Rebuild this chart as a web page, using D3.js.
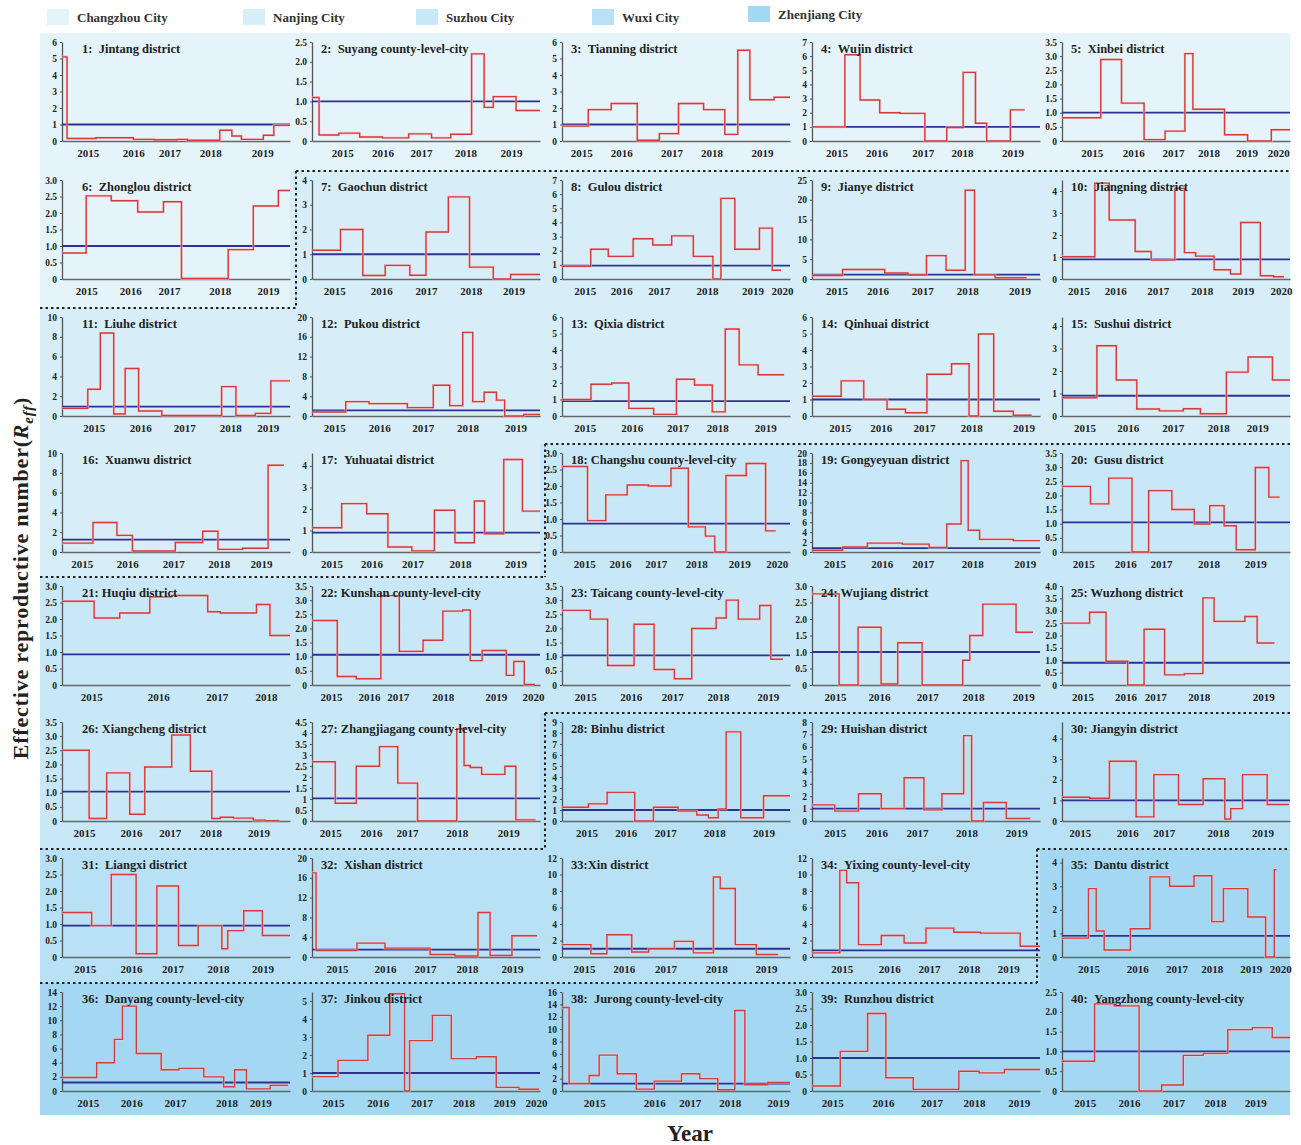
<!DOCTYPE html>
<html>
<head>
<meta charset="utf-8">
<script src="https://cdn.jsdelivr.net/npm/d3@7"></script>
<style>
body { margin: 0; background: #fff; }
text { font-family: "Liberation Serif", "Times New Roman", serif; font-weight: bold; }
</style>
</head>
<body>
<div id="chart"></div>
<script>
// city groups and their background colours
var cities = ["Changzhou City", "Nanjing City", "Suzhou City", "Wuxi City", "Zhenjiang City"];
var cityColors = ["#e5f4fb", "#d7eef9", "#c9e8f7", "#b9e1f5", "#a4d8f2"];

var districts = [
    "1:\u2002Jintang district", "2:\u2002Suyang county-level-city", "3:\u2002Tianning district", "4:\u2002Wujin district", "5:\u2002Xinbei district",
    "6:\u2002Zhonglou district", "7:\u2002Gaochun district", "8:\u2002Gulou district", "9:\u2002Jianye district", "10:\u2002Jiangning district",
    "11:\u2002Liuhe district", "12:\u2002Pukou district", "13:\u2002Qixia district", "14:\u2002Qinhuai district", "15:\u2002Sushui district",
    "16:\u2002Xuanwu district", "17:\u2002Yuhuatai district", "18: Changshu county-level-city", "19: Gongyeyuan district", "20:\u2002Gusu district",
    "21: Huqiu district", "22: Kunshan county-level-city", "23: Taicang county-level-city", "24: Wujiang district", "25: Wuzhong district",
    "26: Xiangcheng district", "27: Zhangjiagang county-level-city", "28: Binhu district", "29: Huishan district", "30: Jiangyin district",
    "31:\u2002Liangxi district", "32:\u2002Xishan district", "33:Xin district", "34:\u2002Yixing county-level-city", "35:\u2002Dantu district",
    "36:\u2002Danyang county-level-city", "37:\u2002Jinkou district", "38:\u2002Jurong county-level-city", "39:\u2002Runzhou district", "40:\u2002Yangzhong county-level-city"
];
var cityOf = [0,0,0,0,0, 0,1,1,1,1, 1,1,1,1,1, 1,1,2,2,2, 2,2,2,2,2, 2,2,3,3,3, 3,3,3,3,4, 4,4,4,4,4];

// y axis: top of axis, tick step, decimals of tick labels (-1 = plain)
var yMax = [6,2.5,6,7,3.5, 3,4,7,25,4.5, 10,20,6,6,4.4, 10,4.6,3,20,3.5, 3,3.5,3.5,3,4, 3.5,4.5,9,8,4.8, 3,20,12,12,4.2, 14,5.5,16,3,2.5];
var yStep = [1,0.5,1,1,0.5, 0.5,1,1,5,1, 2,4,1,1,1, 2,1,0.5,2,0.5, 0.5,0.5,0.5,0.5,0.5, 0.5,0.5,1,1,1, 0.5,4,2,2,1, 2,1,2,0.5,0.5];
var yDigits = [0,1,0,0,1, 1,0,0,0,0, 0,0,0,0,0, 0,0,1,0,1, 1,1,1,1,1, 1,-1,0,0,0, 1,0,0,0,0, 0,0,0,1,1];

// threshold line (Reff = 1 as drawn)
var threshold = [1,1,1,1,1, 1,1,0.95,1.1,0.89, 0.95,1.15,0.9,1,0.9, 1.25,0.9,0.86,0.8,1.05, 0.93,1.07,1.05,1,0.9, 1.04,1.03,1,1,1, 0.95,1.5,1,0.8,0.9, 1.2,1,1.2,1,1];

// year tick positions along each panel (0-100 of the time span), labels start at firstYear
var firstYear = 2015;
var yearPos = [
    [11.3,31.3,47.2,65,87.8], [13.3,30.9,47.8,67.3,87.3], [8.4,26,48,65.6,87.7], [10.8,28.3,48.6,65.8,87.9], [13,31.3,48.7,64.3,80.9,94.8],
    [10.6,29.9,46.9,69.2,90.3], [9.8,30.4,50,69.6,88.4], [10,26,42.4,63.6,83.5,96.5], [10.8,28.7,48.4,68.1,91], [7.2,23.4,42,61.3,79.3,96],
    [13.9,34.3,53.6,73.8,90.2], [9.8,29.5,48.6,68.2,89.3], [10,30.6,50.7,68.1,89.1], [12.2,30.2,49.1,69.8,92.8], [9.9,28.8,48.6,68.5,85.6],
    [8.7,28.6,48.8,68.7,87.3], [8.6,26.1,44.1,64.9,89.2], [9.8,25.4,41.1,58.9,77.7,94.2], [9.9,30.6,48.6,70.3,93.3], [9.3,27.7,43.4,64.3,84.8],
    [12.8,42.2,67.9,89.5], [8.3,25,37.6,57.4,80.6,96.9], [10.2,30.2,48.4,68.4,90.2], [10.1,29.4,50.5,70.6,92.7], [9,27.9,40.9,60,88.3],
    [9.7,30.3,47.3,65.1,86.2], [8,25.9,41.7,63.5,86.1], [10.8,28,45.3,66.8,88.4], [10,28.3,46.1,67.8,89.6], [7.8,28.6,44.6,68.4,87.9],
    [10,30.3,48.5,68.4,87.9], [11,32,49.6,68,87.7], [9.6,27.1,45.4,67.7,89.5], [13,33.9,51.3,68.7,86.1], [11.6,33,50.2,65.7,82.8,95.7],
    [11.3,30.4,49.6,72.2,87], [9.2,28.8,48,66.4,84.3,98.3], [14.1,40.5,56,73.6,94.7], [8.9,31.1,52.4,71.1,90.7], [10,29.4,48.9,67.1,84.8]
];

// step breakpoints (0-100 of the time span) and Reff value of each step
var stepX = [
    [0,2.2,14.9,31.3,40.4,50.5,55,69.2,74.5,78.7,88.3,92.9,100],
    [0,3.1,11.8,20.9,30.9,42.4,52.4,60.9,70,75.5,79.5,89.5,100],
    [0,11.5,21.6,33,42.7,51.1,62.1,71.4,77.1,82.4,93,100],
    [0,14.4,21.1,29.7,38.7,49.5,59.1,66.3,71.7,76.6,87,93.3],
    [0,17,26.1,36,45.2,53.9,57.4,71.3,81.4,91.8,100],
    [0,10.6,21.6,33.2,44.5,52.4,72.9,83.9,94.9,100],
    [0,12.5,22.3,32.1,42.9,50,59.8,69.1,79.5,87.1,100],
    [0,12.6,20.3,31.2,39.8,48.1,57.6,66.2,69.7,75.8,86.6,92.2,96.1],
    [0,13.4,31.9,42.1,50.2,58.8,67.2,71.3,80.3,94.1],
    [0,14.4,20.7,32.1,39.1,49.5,53.7,58.6,66.7,73.9,78.4,87,92.8,97.3],
    [0,11.3,16.8,22.7,27.7,33.6,43.8,70,76.3,84.8,91.6,100],
    [0,14.8,25,41.8,53.2,60.4,66.1,70.5,75.5,80.9,84.5,92.9,100],
    [0,12.7,21.8,29.3,40.2,50.2,58.1,65.9,71.6,77.7,86,97.4],
    [0,12.8,22.7,32.9,41,50.4,61.2,68.9,73,79.7,88.3,96.4],
    [0,15.3,23.8,32.8,42.7,53.2,60.7,72.1,81.6,92.3,100],
    [0,13.6,24.1,30.9,49.7,61.7,68.4,79.2,90.4,97.3],
    [0,13,24,33.3,43.8,53.7,62.7,71.2,75.7,84.1,92.3,100],
    [0,11.2,19.2,28.6,37.9,47.8,55.4,62.9,67,71.9,80.8,89.3,93.8],
    [0,13.5,24.3,39.6,51.4,59.1,65.4,68.5,73.5,88.3,100],
    [0,12.5,20.5,30.7,38,48.2,58,64.8,71.1,76.4,84.8,90.7,95.5],
    [0,14.1,25.3,38.5,48.1,63.9,69.4,85.3,91.2,100],
    [0,11.1,19.4,30.2,38.3,48.7,57.4,66.1,69.4,74.6,85.2,88.5,93.1,97.8],
    [0,12.4,20,31.6,40.4,49.3,56.9,67.6,72,77.3,86.7,91.6,96.9],
    [0,11.9,20.2,30.3,37.6,48.3,66.1,69.2,74.9,89.5,96.9],
    [0,12.1,19.3,28.8,36,45,53.7,61.8,66.7,80.2,85.6,93.2],
    [0,11.9,19.6,29.7,36.3,48.1,56.3,65.7,69.4,75.2,83.9,89,95.4],
    [0,10.2,19.4,29.6,37.6,46.3,63.5,66.7,69.4,74.4,84.6,89.4,98.1],
    [0,11.6,19.8,31.9,40.1,50.9,59.1,64.2,68.5,72,78.4,88.4,100],
    [0,10,20.4,30.4,40.4,49.1,57,66.5,70,75.2,85.2,95.7],
    [0,12.1,20.8,32.5,40.3,51.1,61.9,71.4,74,79.2,90,99.6],
    [0,13,21.6,32.5,41.6,51.1,59.7,70.1,72.7,79.7,87.9,100],
    [0,1.8,19.7,32,51.8,62.7,72.8,78.1,87.7,98.7],
    [0,12.7,19.7,30.6,38,49.3,57.6,66.4,69.4,76,85.2,94.8],
    [0,12.2,15.2,20.4,30.4,40.4,50,62.2,73.9,91.3,100],
    [0,11.6,15,18.5,30,38.6,47.2,57.9,65.7,70.8,81.5,89.3,93.1,94],
    [0,15.2,23,26.5,32.6,43.5,51.3,62.2,70.9,75.7,80.9,91.3,99.1],
    [0,11.4,24.5,34.1,40.6,42.8,52.8,61.1,72.1,80.8,90.8,99.6],
    [0,3.1,11.9,16.3,24.2,32.6,40.5,52.4,60.4,68.3,75.8,80.2,90.3,100],
    [0,12.4,24.4,32.4,44.4,64.4,73.3,84.4,100],
    [0,14.3,22.9,33.8,43.7,53.2,61.9,72.7,83.5,92.2,100]
];
var stepR = [
    [5.1,0.15,0.2,0.1,0.08,0.1,0.05,0.65,0.3,0.1,0.35,0.95],
    [1.1,0.15,0.2,0.1,0.08,0.18,0.08,0.17,2.2,0.85,1.12,0.77],
    [0.9,1.9,2.27,0.05,0.45,2.27,1.9,0.4,5.5,2.5,2.65],
    [1.0,6.1,2.9,2.0,1.95,0,0.95,4.85,1.25,0,2.2],
    [0.82,2.88,1.34,0.05,0.35,3.09,1.12,0.22,0,0.4],
    [0.79,2.52,2.37,2.03,2.34,0.02,0.89,2.21,2.68],
    [1.16,2.0,0.14,0.55,0.15,1.9,3.32,0.48,0,0.18],
    [0.9,2.1,1.6,2.85,2.4,3.05,1.6,0,5.7,2.1,3.6,0.62],
    [0.9,2.4,1.5,1.0,5.9,2.2,22.4,1.05,0.3],
    [1.01,4.36,2.68,1.25,0.86,4.12,1.2,1.04,0.42,0.23,2.57,0.15,0.1],
    [0.78,2.7,8.38,0.2,4.8,0.5,0.05,2.97,0.05,0.27,3.55],
    [0.8,2.9,2.5,1.7,6.2,2.1,16.9,2.9,4.8,3.2,0,0.3],
    [1.0,1.92,2.0,0.46,0.1,2.23,1.88,0.25,5.27,3.1,2.5],
    [1.2,2.13,1.0,0.41,0.2,2.53,3.17,0,4.97,0.29,0.05],
    [0.81,3.12,1.6,0.31,0.23,0.32,0.1,1.95,2.62,1.6],
    [0.9,2.98,1.68,0.1,0.96,2.09,0.27,0.38,8.77],
    [1.13,2.25,1.78,0.23,0.05,1.94,0.43,2.37,0.85,4.3,1.9],
    [2.59,0.95,1.73,2.03,2.0,2.54,0.76,0.48,0,2.32,2.68,0.64],
    [0.34,1.0,1.8,1.6,0.94,5.66,18.45,4.4,2.56,2.3],
    [2.32,1.7,2.61,0,2.17,1.5,0.99,1.64,0.93,0.08,2.99,1.94],
    [2.54,2.03,2.18,2.67,2.71,2.22,2.18,2.44,1.5],
    [2.28,0.3,0.22,3.16,1.19,1.58,2.61,2.65,0.86,1.22,0.34,0.83,0.02],
    [2.64,2.33,0.69,2.15,0.55,0.22,2.0,2.37,3.0,2.33,2.81,0.91],
    [2.76,0,1.75,0.03,1.28,0,0.75,1.5,2.45,1.6],
    [2.5,2.94,0.96,0,2.25,0.41,0.46,3.52,2.57,2.77,1.7],
    [2.5,0.09,1.7,0.24,1.91,3.04,1.76,0.09,0.13,0.1,0.03,0.01],
    [2.69,0.81,2.49,3.38,1.72,0,4.19,2.52,2.43,2.12,2.49,0.05],
    [1.25,1.56,2.6,0,1.25,0.9,0.55,0.3,1.1,8.1,0.3,2.3],
    [1.3,0.8,2.2,1.0,3.5,0.9,2.2,6.9,0,1.5,0.2],
    [1.15,1.1,2.9,0.2,2.25,0.8,2.05,0.1,0.6,2.25,0.8],
    [1.35,0.95,2.5,0.1,2.15,0.35,0.95,0.25,0.8,1.4,0.65],
    [17,1.3,2.8,1.8,0.5,0.2,9.0,0.3,4.3],
    [1.5,0.4,2.7,0.6,1.0,1.9,0.5,9.7,8.3,1.5,0.3],
    [0.5,10.5,9.0,1.5,2.6,1.7,3.5,3.0,2.9,1.3],
    [0.8,2.9,1.1,0.3,1.2,3.4,3.0,3.45,1.5,2.9,1.7,0,3.7],
    [1.9,4.0,7.3,12,5.3,3.0,3.2,2.0,0.6,3.0,0.3,0.8],
    [0.8,1.7,3.1,5.4,0,2.8,4.2,1.8,1.9,0.2,0.1],
    [13.5,1.2,2.5,5.8,2.8,0.3,1.6,2.8,2.0,0.2,13,1.0,1.4],
    [0.15,1.2,2.35,0.4,0.05,0.6,0.55,0.65],
    [0.75,2.2,2.15,0,0.15,0.9,0.95,1.55,1.6,1.35]
];

var svgWidth = 1301;
var svgHeight = 1145;

var svg = d3.select("#chart")
    .append("svg")
    .attr("width", svgWidth)
    .attr("height", svgHeight);

// grid of small panels
var colLeft = 40, colWidth = 250;
var rowTops = [33, 171, 308, 444, 577, 713, 849, 983];
var rowBottom = 1115;
var axisOffset = 22, plotW = 228, plotTop = 9, plotBottom = 108;

var bgGroup = svg.append("g");
var panelGroup = svg.append("g");

districts.forEach(function(name, i) {
    var r = Math.floor(i / 5), c = i % 5;
    var x0 = colLeft + c * colWidth;
    var y0 = rowTops[r];
    var y1 = r < rowTops.length - 1 ? rowTops[r + 1] : rowBottom;

    bgGroup.append("rect")
        .attr("x", x0)
        .attr("y", y0)
        .attr("width", colWidth)
        .attr("height", y1 - y0)
        .attr("fill", cityColors[cityOf[i]]);

    var g = panelGroup.append("g")
        .attr("transform", `translate(${x0 + axisOffset}, ${y0})`);

    var xScale = d3.scaleLinear().domain([0, 100]).range([0, plotW]);
    var yScale = d3.scaleLinear().domain([0, yMax[i]]).range([plotBottom, plotTop]);

    // y axis
    var fmt = yDigits[i] < 0 ? (d => String(d)) : (d => d === 0 ? "0" : d3.format(`.${yDigits[i]}f`)(d));
    var leftAxis = d3.axisLeft(yScale)
        .tickValues(d3.range(0, yMax[i] + 1e-6, yStep[i]))
        .tickSize(2)
        .tickSizeOuter(0)
        .tickPadding(3)
        .tickFormat(fmt);
    var ya = g.append("g").call(leftAxis);
    ya.select(".domain").attr("stroke", "#555").attr("stroke-width", 1.3);
    ya.selectAll(".tick line").attr("stroke", "#555");
    ya.selectAll("text").attr("font-size", 9.5).attr("fill", "#222")
        .attr("font-family", "Liberation Serif, serif").attr("font-weight", "bold");

    // x axis with year labels
    var bottomAxis = d3.axisBottom(xScale)
        .tickValues(yearPos[i])
        .tickFormat((d, k) => firstYear + k)
        .tickSize(0)
        .tickSizeOuter(0)
        .tickPadding(8);
    var xa = g.append("g")
        .attr("transform", `translate(0, ${plotBottom})`)
        .call(bottomAxis);
    xa.select(".domain").attr("stroke", "#666").attr("stroke-width", 1.6);
    xa.selectAll("text").attr("font-size", 11).attr("fill", "#222")
        .attr("font-family", "Liberation Serif, serif").attr("font-weight", "bold");

    // threshold line
    g.append("line")
        .attr("x1", xScale(0))
        .attr("x2", xScale(100))
        .attr("y1", yScale(threshold[i]))
        .attr("y2", yScale(threshold[i]))
        .attr("stroke", "#2e3192")
        .attr("stroke-width", 1.8);

    // Reff step line
    var pts = stepR[i].map((v, k) => [stepX[i][k], v]);
    pts.push([stepX[i][stepX[i].length - 1], stepR[i][stepR[i].length - 1]]);
    var line = d3.line()
        .x(d => xScale(d[0]))
        .y(d => yScale(d[1]))
        .curve(d3.curveStepAfter);
    g.append("path")
        .attr("d", line(pts))
        .attr("fill", "none")
        .attr("stroke", "#f2c6c6")
        .attr("stroke-opacity", 0.7)
        .attr("stroke-width", 2.6);
    g.append("path")
        .attr("d", line(pts))
        .attr("fill", "none")
        .attr("stroke", "#d83a3c")
        .attr("stroke-width", 1.4);

    // panel title
    g.append("text")
        .attr("x", c === 0 ? 20 : 9)
        .attr("y", 20)
        .attr("font-size", 12.5)
        .attr("fill", "#222")
        .text(name);
});

// dotted borders between cities
var borders = [
    "M296,171 H1290 M296,171 V308 M40,308 H296",
    "M545,444 H1290 M545,444 V577 M40,577 H545",
    "M545,713 H1290 M545,713 V849 M40,849 H545",
    "M1037,849 H1290 M1037,849 V983 M40,983 H1037"
];
svg.append("g").selectAll("path")
    .data(borders)
    .enter()
    .append("path")
    .attr("d", d => d)
    .attr("fill", "none")
    .attr("stroke", "#222")
    .attr("stroke-width", 2)
    .attr("stroke-dasharray", "2.5,3");

// legend
var legendX = [47, 243, 416, 592, 748];
var legend = svg.append("g");
cities.forEach(function(city, k) {
    var dy = k === 4 ? -3 : 0;
    legend.append("rect")
        .attr("x", legendX[k])
        .attr("y", 9 + dy)
        .attr("width", 22)
        .attr("height", 16)
        .attr("fill", cityColors[k]);
    legend.append("text")
        .attr("x", legendX[k] + 30)
        .attr("y", 22 + dy)
        .attr("font-size", 13)
        .attr("fill", "#333")
        .text(city);
});

// axis titles
var yTitle = svg.append("text")
    .attr("transform", "translate(28, 578) rotate(-90)")
    .attr("text-anchor", "middle")
    .attr("font-size", 22)
    .attr("letter-spacing", 0.8)
    .attr("fill", "#222");
yTitle.append("tspan").text("Effective reproductive number(");
yTitle.append("tspan").attr("font-style", "italic").text("R");
yTitle.append("tspan").attr("font-style", "italic").attr("font-size", 15).attr("dy", 5).text("eff");
yTitle.append("tspan").attr("dy", -5).text(")");

svg.append("text")
    .attr("x", 690)
    .attr("y", 1141)
    .attr("text-anchor", "middle")
    .attr("font-size", 23)
    .attr("fill", "#222")
    .text("Year");
</script>
</body>
</html>
